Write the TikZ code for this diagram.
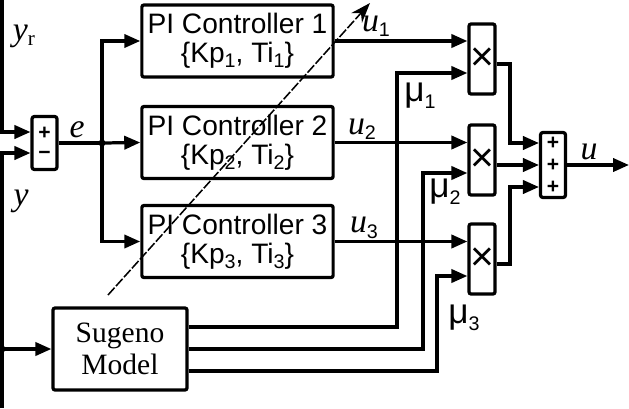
\documentclass[tikz,border=0pt]{standalone}
\usepackage{fontspec}
\setmainfont{Liberation Sans}
\newfontfamily\tms{Liberation Serif}
\usetikzlibrary{arrows.meta,calc}

% lowered subscripts in the sans main font
\newcommand{\sbs}[1]{\raisebox{-0.35ex}{\normalfont\fontsize{14}{14}\selectfont #1}}
\newcommand{\sbr}[1]{\raisebox{-0.35ex}{\fontsize{15}{15}\selectfont\upshape #1}}

\tikzset{
  wire/.style={line width=2.3pt},
  sig/.style={wire,-{Triangle[length=4mm,width=3.3mm]}},
  blk/.style={draw,line width=2.3pt,rounded corners=1.5pt,inner sep=0pt},
  pibox/.style={blk,minimum width=4.78cm,minimum height=1.8cm,align=center,
    font=\fontsize{20}{20.5}\selectfont},
  multbox/.style={blk,minimum width=0.65cm,minimum height=1.75cm,
    font=\fontsize{29}{29}\selectfont},
  sumbox/.style={blk,minimum width=0.62cm,align=center},
  lbl/.style={inner sep=0pt,font=\fontsize{24}{24}\selectfont\tms\itshape},
  mulbl/.style={inner sep=0pt,font=\fontsize{25}{25}\selectfont},
  dot/.style={circle,fill,inner sep=0pt,minimum size=5pt},
}

\begin{document}
\begin{tikzpicture}[x=0.025cm,y=-0.025cm]
\useasboundingbox (0,0) rectangle (629,408);

% blocks
\node[sumbox,minimum height=1.32cm,font=\fontsize{15}{14.2}\selectfont\bfseries] (sum1) at (44.5,143) {+\\−};
\node[pibox] (pi1) at (237.5,41) {PI Controller 1\\\{Kp\sbs{1}, Ti\sbs{1}\}};
\node[pibox] (pi2) at (237.5,142.5) {PI Controller 2\\\{Kp\sbs{2}, Ti\sbs{2}\}};
\node[pibox] (pi3) at (237.5,241.5) {PI Controller 3\\\{Kp\sbs{3}, Ti\sbs{3}\}};
\node[multbox] (mult1) at (482,59) {×};
\node[multbox] (mult2) at (482,160) {×};
\node[multbox] (mult3) at (482,259) {×};
\node[sumbox,minimum height=1.62cm,font=\fontsize{15}{15.6}\selectfont\bfseries] (sum2) at (553,165) {+\\+\\+};
\node[blk,minimum width=3.35cm,minimum height=2.05cm,align=center,
  font=\fontsize{21}{23}\selectfont\tms] (sug) at (120,349) {Sugeno\\Model};

% corner points
\coordinate (yrtop) at (2,0);
\coordinate (ybot) at (2,408);
\coordinate (ytap) at (2,349);
\coordinate (br) at (102,143);
\coordinate (s1) at ($(sug.east)+(0,-22)$);
\coordinate (s2) at (sug.east);
\coordinate (s3) at ($(sug.east)+(0,22)$);
\coordinate (c1) at (397,73);
\coordinate (c2) at (423,173);
\coordinate (c3) at (437,276);
\coordinate (o1) at (510,143);
\coordinate (o3) at (510,187);
\coordinate (uout) at (629,165);
\coordinate (dgs) at (108,295);
\coordinate (dge) at (370,3);

% inputs
\draw[sig] (yrtop) |- ($(sum1.west)+(0,-11)$);
\draw[sig] (ybot) |- ($(sum1.west)+(0,10)$);
\draw[sig] (ytap) -- (sug.west);
\node[dot] (tapdot) at (ytap) {};

% error to controllers
\draw[wire] (sum1.east) -- (br);
\draw[sig] (br) -- (pi2.west);
\draw[sig] (br) |- (pi1.west);
\draw[sig] (br) |- (pi3.west);
\node[dot] (brdot) at (br) {};

% controller outputs
\draw[sig] (pi1.east) -- (pi1.east -| mult1.west);
\draw[sig] (pi2.east) -- (pi2.east -| mult2.west);
\draw[sig] (pi3.east) -- (pi3.east -| mult3.west);

% weights
\draw[sig] (s1) -| (c1) -- (c1 -| mult1.west);
\draw[sig] (s2) -| (c2) -- (c2 -| mult2.west);
\draw[sig] (s3) -| (c3) -- (c3 -| mult3.west);

% products to sum
\draw[sig] ($(mult1.east)+(0,5)$) -| (o1) -- (o1 -| sum2.west);
\draw[sig] ($(mult2.east)+(0,5)$) -- (sum2.west);
\draw[sig] ($(mult3.east)+(0,5)$) -| (o3) -- (o3 -| sum2.west);
\draw[sig] (sum2.east) -- (uout);

% tuning arrow
\draw[line width=1.1pt,dash pattern=on 7pt off 1.5pt,-{Stealth[length=5mm,width=3.6mm]}] (dgs) -- (dge);

% labels
\node[lbl] (lyr) at (24,36) {y\sbr{r}};
\node[lbl] (ly) at (21,201) {y};
\node[lbl] (le) at (77,130) {e};
\node[lbl] (lu1) at (376,26) {u\sbs{1}};
\node[lbl] (lu2) at (362,129) {u\sbs{2}};
\node[lbl] (lu3) at (364,228) {u\sbs{3}};
\node[lbl] (lu) at (589,152) {u};
\node[mulbl] (lmu1) at (420,96) {μ\sbs{1}};
\node[mulbl] (lmu2) at (445,192) {μ\sbs{2}};
\node[mulbl] (lmu3) at (464,318) {μ\sbs{3}};
\end{tikzpicture}
\end{document}
